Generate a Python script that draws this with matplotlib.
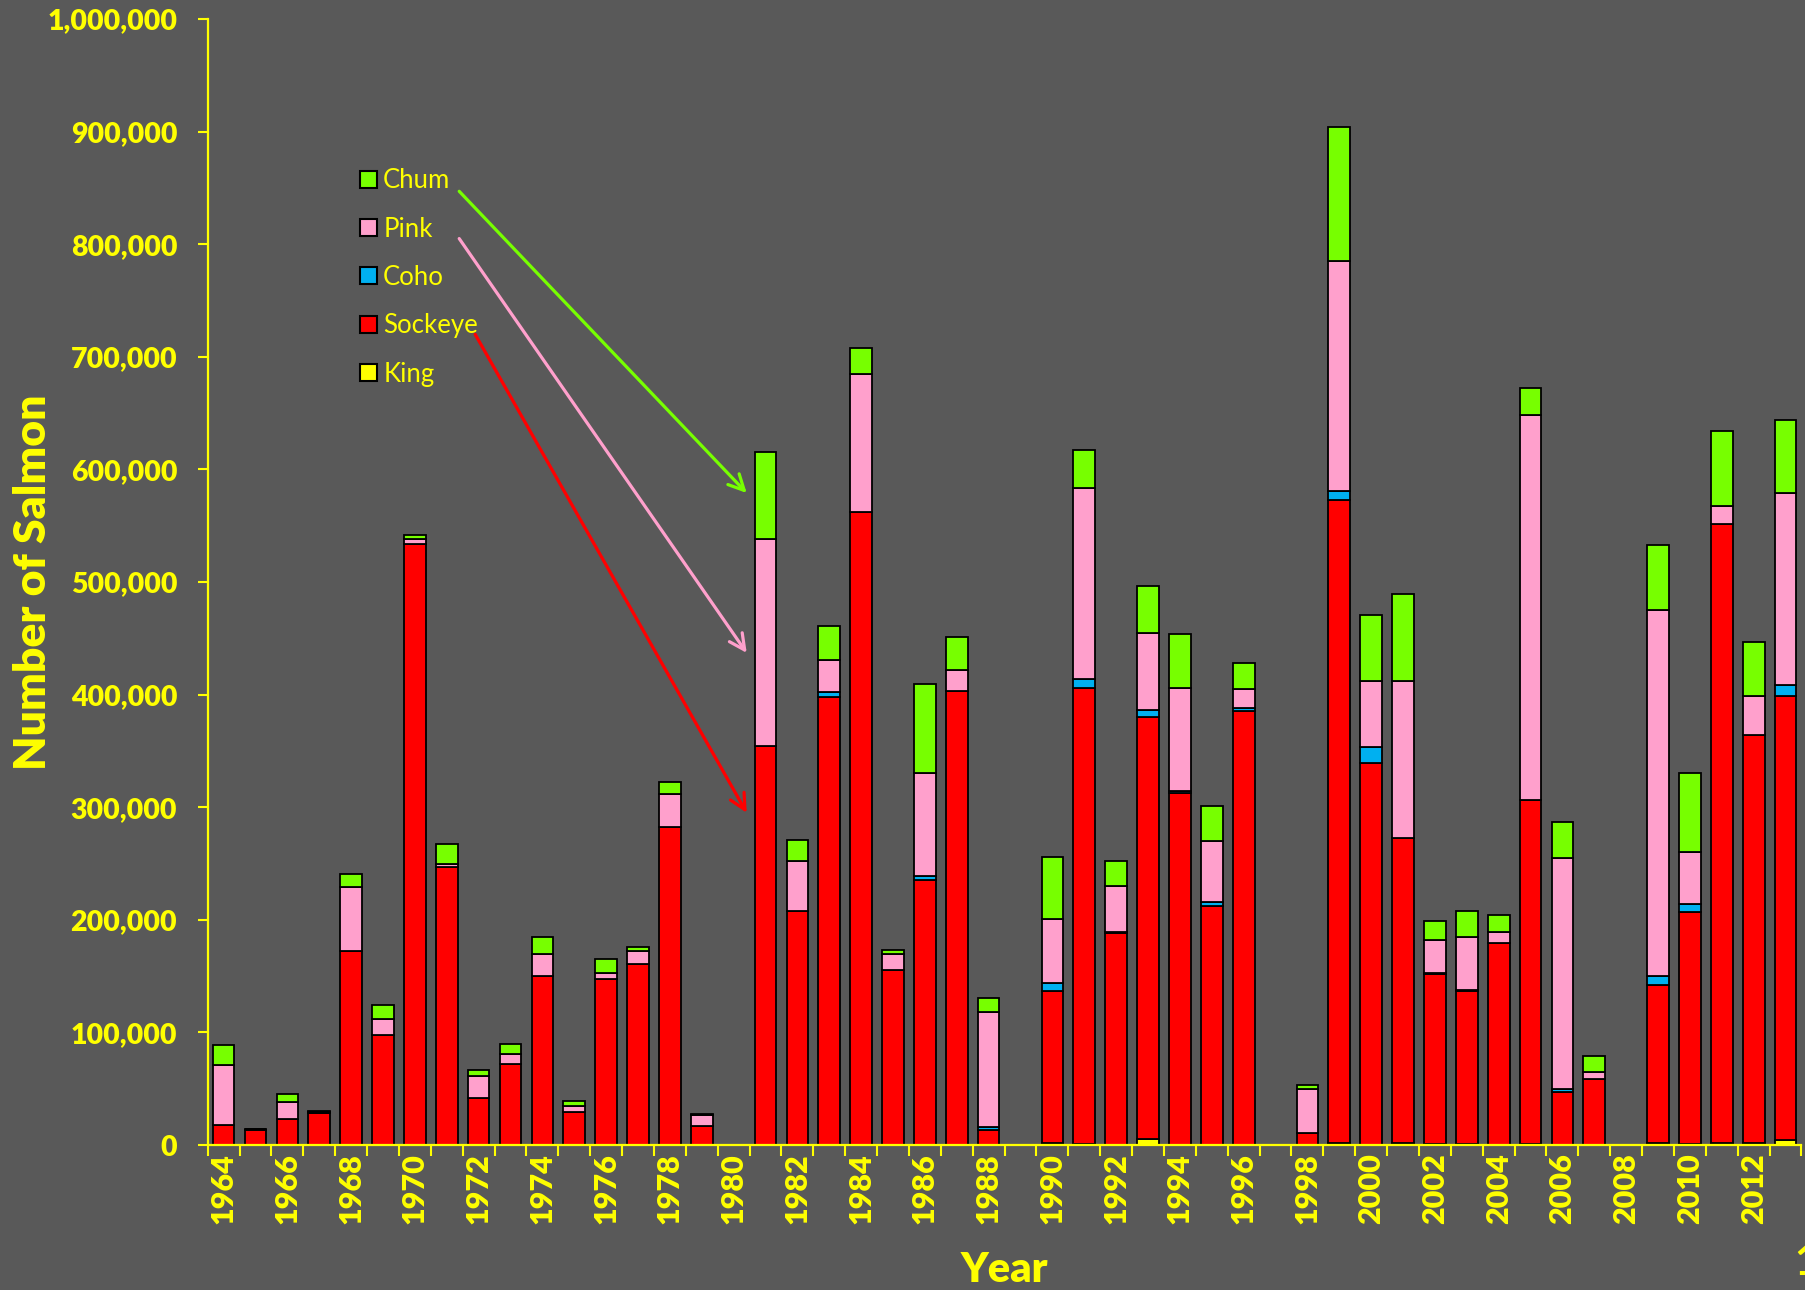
import matplotlib
matplotlib.use('agg')
import matplotlib.pyplot as plt
import numpy as np
from matplotlib.ticker import StrMethodFormatter, FixedLocator
from matplotlib.patches import Patch

years = list(range(1964, 2014))

king = [0, 0, 0, 0, 0, 0, 0, 0, 0, 0,
        0, 0, 0, 0, 0, 0, 0, 0, 0, 0,
        0, 0, 0, 0, 0, 0, 2000, 1000, 0, 5000,
        0, 0, 0, 0, 0, 1500, 0, 2000, 500, 500,
        0, 1000, 0, 0, 0, 1500, 1000, 1500, 2000, 4000]

sockeye = [18000, 13500, 23000, 28000, 172500, 98000, 534000, 246500, 41500, 71500,
           150500, 29000, 147000, 160500, 282000, 17000, 0, 354000, 208000, 398000,
           562500, 155000, 235000, 403000, 13000, 0, 135000, 405000, 188000, 375000,
           313000, 212500, 385500, 0, 11000, 571000, 339500, 270500, 151500, 136500,
           179000, 305000, 47000, 58500, 0, 141000, 206000, 550000, 362500, 394500]

coho = [0, 0, 0, 0, 0, 0, 0, 0, 0, 0,
        0, 0, 0, 0, 0, 0, 0, 0, 0, 4000,
        0, 0, 3500, 0, 3000, 0, 6500, 8000, 1000, 6000,
        1000, 3000, 3000, 0, 0, 8500, 14000, 0, 1000, 1000,
        0, 0, 3000, 0, 0, 7500, 7000, 0, 0, 10000]

pink = [53000, 500, 15500, 1000, 57000, 13500, 4000, 3000, 20000, 9500,
        19000, 6000, 5500, 11500, 29500, 10000, 0, 184500, 44500, 28500,
        122000, 14500, 91500, 18500, 102000, 0, 57000, 169500, 41000, 68500,
        92000, 54500, 16500, 0, 39000, 204500, 58500, 140000, 29000, 46500,
        10000, 342500, 205000, 6500, 0, 325500, 46000, 16000, 34500, 170500]

chum = [18000, 500, 6500, 1500, 11000, 12500, 4000, 18000, 5500, 9000,
        15000, 4000, 13000, 4000, 10500, 500, 0, 77000, 18000, 30000,
        23000, 4000, 79000, 30000, 12500, 0, 55000, 34000, 22000, 42000,
        48000, 31000, 23000, 0, 3000, 119000, 59000, 77000, 17000, 23500,
        15500, 24000, 31500, 14000, 0, 57000, 70500, 66500, 47500, 64500]

species = ['King', 'Sockeye', 'Coho', 'Pink', 'Chum']
colors = ['#FFFF00', '#FF0000', '#00B0F0', '#FFA0CC', '#77FF00']

# arrows from legend to the 1981 bar (x = category index, y = salmon)
arrow_green = ((7.39, 847000), (16.41, 579000))
arrow_pink = ((7.39, 805000), (16.41, 437000))
arrow_red = ((7.89, 720000), (16.41, 295000))

bg = '#595959'
yel = '#FFFF00'

fig = plt.figure(figsize=(18.06, 12.9), dpi=100, facecolor=bg)
ax = fig.add_axes([207.7 / 1806, 145 / 1290, 1593.8 / 1806, 1126 / 1290])
ax.set_facecolor(bg)

x = np.arange(len(years))
bottom = np.zeros(len(years))
for name, vals, c in zip(species, [king, sockeye, coho, pink, chum], colors):
    ax.bar(x, vals, 0.68, bottom=bottom, color=c, edgecolor='black', linewidth=1.3, label=name)
    bottom = bottom + np.array(vals)

ax.set_xlim(-0.5, len(years) - 0.5)
ax.set_ylim(0, 1000000)

for s in ['top', 'right']:
    ax.spines[s].set_visible(False)
for s in ['left', 'bottom']:
    ax.spines[s].set_color(yel)
    ax.spines[s].set_linewidth(1.6)

ax.yaxis.set_major_locator(FixedLocator(np.arange(0, 1000001, 100000)))
ax.yaxis.set_major_formatter(StrMethodFormatter('{x:,.0f}'))
ax.tick_params(axis='y', colors=yel, direction='out', length=7, width=1.5, pad=15)
for t in ax.get_yticklabels():
    t.set_fontfamily('Lato')
    t.set_fontweight('heavy')
    t.set_fontsize(20.5)

ax.set_xticks(x[::2])
ax.set_xticklabels([str(y) for y in years[::2]], rotation=90, fontsize=22,
                   fontweight='heavy', family='Lato', color=yel)
ax.set_xticks(np.arange(-0.5, len(years), 1), minor=True)
ax.tick_params(axis='x', which='major', length=0, pad=6, colors=yel)
ax.tick_params(axis='x', which='minor', length=8, width=1.5, color=yel)

ax.set_ylabel('Number of Salmon', fontsize=32, fontweight='heavy', family='Lato', color=yel)
ax.yaxis.set_label_coords(-0.097, 0.5)
ax.set_xlabel('Year', fontsize=30, fontweight='heavy', family='Lato', color=yel)
ax.xaxis.set_label_coords(0.5, -0.094)

for (p0, p1), c in zip([arrow_green, arrow_pink, arrow_red], ['#77FF00', '#FFA0CC', '#FF0000']):
    ax.annotate('', xy=p1, xytext=p0,
                arrowprops=dict(arrowstyle='->', color=c, lw=2.3, mutation_scale=28, shrinkA=0, shrinkB=0))

handles = [Patch(facecolor=c, edgecolor='black', linewidth=1.5) for c in colors][::-1]
leg = ax.legend(handles, species[::-1], loc='upper left', bbox_to_anchor=(337 / 1806, 1 - 145 / 1290),
                bbox_transform=fig.transFigure, frameon=False, prop={'family': 'Lato', 'size': 18.5},
                handlelength=0.65, handleheight=0.65, handletextpad=0.25, labelspacing=0.91)
for t in leg.get_texts():
    t.set_color(yel)

fig.text(1794 / 1806, 1 - 1263 / 1290, '1', color=yel, fontsize=30, fontweight='bold', family='Lato',
         va='center', ha='left')

plt.savefig('out.png', dpi=100, facecolor=bg)
